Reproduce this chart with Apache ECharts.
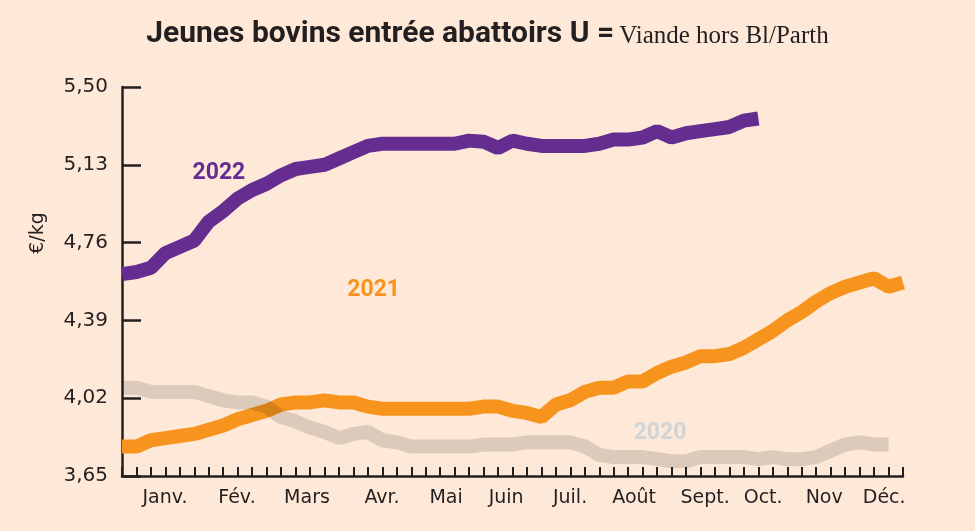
<!DOCTYPE html>
<html>
<head>
<meta charset="utf-8">
<script src="https://cdn.jsdelivr.net/npm/echarts@6/dist/echarts.min.js"></script>
<style>
html,body{margin:0;padding:0;background:#fee9d8;}
#chart{width:975px;height:531px;}
</style>
</head>
<body>
<div id="chart"></div>
<script>
// Weekly prices (€/kg), week index 0..
var price2022 = [4.61,4.62,4.64,4.71,4.74,4.77,4.86,4.91,4.97,5.01,5.04,5.08,5.11,5.12,5.13,5.16,5.19,5.22,5.23,
  5.23,5.23,5.23,5.23,5.23,
  5.245,5.24,5.21,5.245,5.23,5.22,5.22,5.22,5.22,5.23,5.25,5.25,5.26,5.29,5.26,5.28,5.29,5.30,5.31,5.34,5.35];
var price2021 = [3.79,3.79,3.82,3.83,3.84,3.85,3.87,3.89,3.92,3.94,3.96,3.99,4.00,4.00,4.01,4.00,4.00,3.98,3.97,3.97,
  3.97,3.97,3.97,3.97,3.97,3.98,3.98,3.96,3.95,3.93,3.99,4.01,4.05,4.07,4.07,4.10,4.10,4.14,4.17,4.19,
  4.22,4.22,4.23,4.26,4.30,4.34,4.39,4.43,4.48,4.52,4.55,4.57,4.59,4.55,4.57];
var price2020 = [4.07,4.07,4.05,4.05,4.05,4.05,4.03,4.01,4.00,4.00,3.98,3.93,3.91,3.88,3.86,3.83,3.85,3.86,3.82,3.81,
  3.79,3.79,3.79,3.79,3.79,3.80,3.80,3.80,3.81,3.81,3.81,3.81,3.79,3.75,3.74,3.74,3.74,3.73,3.72,3.72,
  3.74,3.74,3.74,3.74,3.73,3.74,3.73,3.73,3.74,3.77,3.80,3.81,3.80,3.80];
var yTicks = [3.65,4.02,4.39,4.76,5.13,5.50];
var monthLabels = ['Janv.','Fév.','Mars','Avr.','Mai','Juin','Juil.','Août','Sept.','Oct.','Nov','Déc.'];
var monthWeek = [2.97,7.95,12.79,17.98,22.41,26.56,30.98,35.41,40.32,44.33,48.55,52.70];
var seriesNames = ['2020','2021','2022'];

function toPairs(arr){ return arr.map(function(v,i){ return [i,v]; }); }

var ink = '#231f20';
var chart = echarts.init(document.getElementById('chart'));
chart.setOption({
  animation:false,
  backgroundColor:'#fee9d8',
  title:{
    left:'center', top:14,
    text:'{b|Jeunes bovins entrée abattoirs U =} {s|Viande hors Bl/Parth}',
    textStyle:{
      fontWeight:'normal',
      rich:{
        b:{fontFamily:'Roboto', fontWeight:'bold', fontSize:30, color:ink},
        s:{fontFamily:'"Liberation Serif"', fontWeight:'normal', fontSize:25, color:ink, padding:[4,0,0,0]}
      }
    }
  },
  grid:{left:122, right:72, top:87, bottom:55},
  xAxis:{
    type:'value', min:0, max:54, interval:1,
    axisLine:{show:true, lineStyle:{color:ink, width:2.5}},
    axisTick:{show:true, inside:true, length:9, lineStyle:{color:ink, width:2}},
    splitLine:{show:false},
    axisLabel:{
      show:true, customValues:monthWeek, margin:13,
      fontFamily:'"DejaVu Sans"', fontSize:19, color:ink,
      formatter:function(v){
        for(var i=0;i<monthWeek.length;i++){ if(Math.abs(monthWeek[i]-v)<1e-6) return monthLabels[i]; }
        return '';
      }
    }
  },
  yAxis:{
    type:'value', min:3.65, max:5.50,
    axisLine:{show:true, lineStyle:{color:ink, width:2.5}},
    axisTick:{show:true, inside:true, length:19, customValues:yTicks, lineStyle:{color:ink, width:2.5}},
    splitLine:{show:false},
    axisLabel:{
      show:true, customValues:yTicks, margin:14,
      fontFamily:'"DejaVu Sans"', fontSize:20, color:ink,
      formatter:function(v){ return v.toFixed(2).replace('.',','); }
    }
  },
  graphic:[{
    type:'text', x:38, y:233, rotation:Math.PI/2,
    style:{text:'€/kg', font:'19px "DejaVu Sans"', fill:ink, textAlign:'center', textVerticalAlign:'middle'}
  }],
  series:[
    {
      name:seriesNames[1], type:'line', data:toPairs(price2021), showSymbol:false, z:2,
      lineStyle:{color:'#f7941d', width:14},
      markPoint:{symbol:'circle', symbolSize:1, itemStyle:{color:'rgba(0,0,0,0)'},
        label:{show:true, position:'inside', formatter:seriesNames[1], color:'#f7941d', fontFamily:'Roboto', fontWeight:'bold', fontSize:23},
        data:[{coord:[17.4,4.534]}]}
    },
    {
      name:seriesNames[0], type:'line', data:toPairs(price2020), showSymbol:false, z:3,
      lineStyle:{color:'rgba(0,0,0,0.135)', width:14},
      markPoint:{symbol:'circle', symbolSize:1, itemStyle:{color:'rgba(0,0,0,0)'},
        label:{show:true, position:'inside', formatter:seriesNames[0], color:'#d0d4d6', fontFamily:'Roboto', fontWeight:'bold', fontSize:23},
        data:[{coord:[37.2,3.854]}]}
    },
    {
      name:seriesNames[2], type:'line', data:toPairs(price2022), showSymbol:false, z:4,
      lineStyle:{color:'#662d91', width:14},
      markPoint:{symbol:'circle', symbolSize:1, itemStyle:{color:'rgba(0,0,0,0)'},
        label:{show:true, position:'inside', formatter:seriesNames[2], color:'#662d91', fontFamily:'Roboto', fontWeight:'bold', fontSize:23},
        data:[{coord:[6.7,5.09]}]}
    }
  ]
});
</script>
</body>
</html>
